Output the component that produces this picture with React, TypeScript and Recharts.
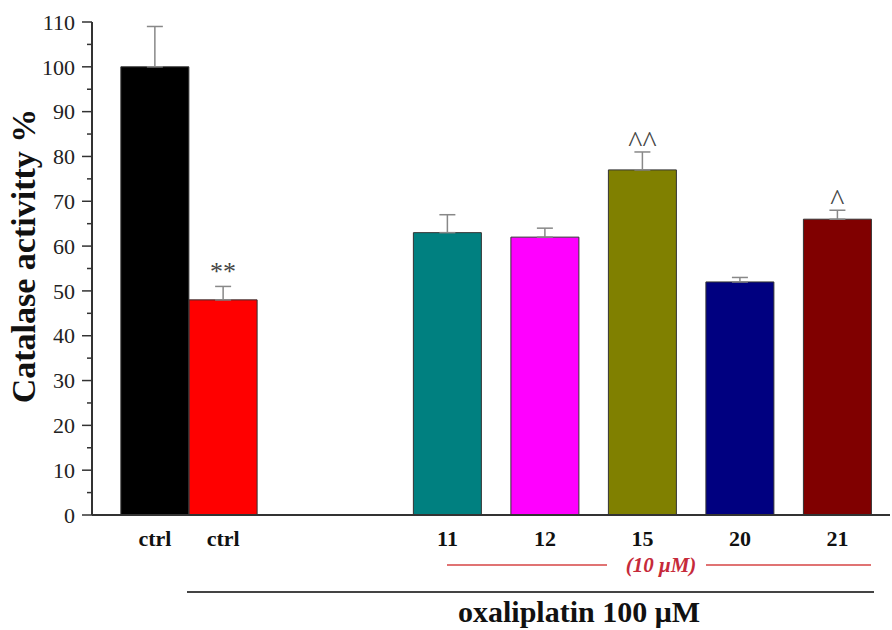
import { Bar, BarChart, Cell, ErrorBar, LabelList, XAxis, YAxis } from 'recharts';

const groups = ['ctrl', 'ctrl', '11', '12', '15', '20', '21'];
const activity = [100, 48, 63, 62, 77, 52, 66];
const sem = [9, 3, 4, 2, 4, 1, 2];
const marks = ['', '**', '', '', '^^', '', '^'];
const yTicks = [0, 5, 10, 15, 20, 25, 30, 35, 40, 45, 50, 55, 60, 65, 70, 75, 80, 85, 90, 95, 100, 105, 110];

const barColors = ['#000000', '#ff0000', '#008080', '#ff00ff', '#808000', '#000080', '#800000'];

// the two controls touch, the compounds sit one slot apart after a gap
const slot = (i: number) => (i < 2 ? i * 0.7 : i + 1);

const rows = groups.map((g, i) => ({
  pos: slot(i),
  label: g,
  value: activity[i],
  err: [0, sem[i]],
  mark: marks[i],
}));

const serif = '"Liberation Serif", "Times New Roman", serif';

function YTick(props: any) {
  const { x, y, payload } = props;
  const major = payload.value % 10 === 0;
  return (
    <g>
      <line x1={x} x2={x - (major ? 10 : 5)} y1={y} y2={y} stroke="#333" strokeWidth={1.5} />
      {major && (
        <text x={x - 17} y={y} dy="0.35em" textAnchor="end" fontFamily={serif} fontSize={22} fill="#222">
          {payload.value}
        </text>
      )}
    </g>
  );
}

function XTick(props: any) {
  const { x, y, payload } = props;
  const idx = rows.findIndex((r) => Math.abs(r.pos - payload.value) < 1e-6);
  return (
    <text x={x} y={y + 13} dy="0.71em" textAnchor="middle" fontFamily={serif} fontWeight="bold" fontSize={22} fill="#111">
      {idx >= 0 ? rows[idx].label : ''}
    </text>
  );
}

function MarkLabel(props: any) {
  const { x, y, width, height, value, index } = props;
  if (!value) return null;
  const pxPerUnit = height / activity[index];
  const top = y - sem[index] * pxPerUnit;
  const caret = value.startsWith('^');
  return (
    <text
      x={x + width / 2}
      y={top - (caret ? 0 : 6)}
      textAnchor="middle"
      fontFamily={serif}
      fontSize={caret ? 30 : 26}
      fill="#444"
    >
      {value}
    </text>
  );
}

export default function App() {
  return (
    <div style={{ position: 'absolute', left: 0, top: 0, width: 892, height: 630, background: '#fff' }}>
      <BarChart width={892} height={630} data={rows} margin={{ top: 22, right: 2, bottom: 85, left: 0 }}>
        <XAxis
          type="number"
          dataKey="pos"
          height={30}
          domain={[-0.646, 7.538]}
          allowDataOverflow
          ticks={rows.map((r) => r.pos)}
          tick={<XTick />}
          tickLine={false}
          tickSize={0}
          axisLine={{ stroke: '#333', strokeWidth: 2 }}
          interval={0}
        />
        <YAxis
          width={92}
          domain={[0, 110]}
          ticks={yTicks}
          interval={0}
          tick={<YTick />}
          tickLine={false}
          tickSize={0}
          tickMargin={0}
          axisLine={{ stroke: '#333', strokeWidth: 2 }}
        />
        <Bar dataKey="value" barSize={68} stroke="#333" strokeWidth={1} isAnimationActive={false}>
          {rows.map((r, i) => (
            <Cell key={i} fill={barColors[i]} />
          ))}
          <ErrorBar dataKey="err" direction="y" width={8} stroke="#888" strokeWidth={1.5} />
          <LabelList dataKey="mark" content={<MarkLabel />} />
        </Bar>
      </BarChart>
      <svg width={892} height={630} style={{ position: 'absolute', left: 0, top: 0, pointerEvents: 'none' }}>
        <text
          transform="translate(35,256) rotate(-90)"
          textAnchor="middle"
          fontFamily={serif}
          fontWeight="bold"
          fontSize={34}
          fill="#111"
        >
          Catalase activitty %
        </text>
        <line x1={447} x2={607} y1={565} y2={565} stroke="#d64545" strokeWidth={1.5} />
        <text x={661} y={572} textAnchor="middle" fontFamily={serif} fontStyle="italic" fontWeight="bold" fontSize={21} fill="#c62a3a">
          (10 μM)
        </text>
        <line x1={706} x2={871} y1={565} y2={565} stroke="#d64545" strokeWidth={1.5} />
        <line x1={187} x2={874} y1={592} y2={592} stroke="#444" strokeWidth={2} />
        <text x={579} y={622} textAnchor="middle" fontFamily={serif} fontWeight="bold" fontSize={30} fill="#111">
          oxaliplatin 100 μM
        </text>
      </svg>
    </div>
  );
}
